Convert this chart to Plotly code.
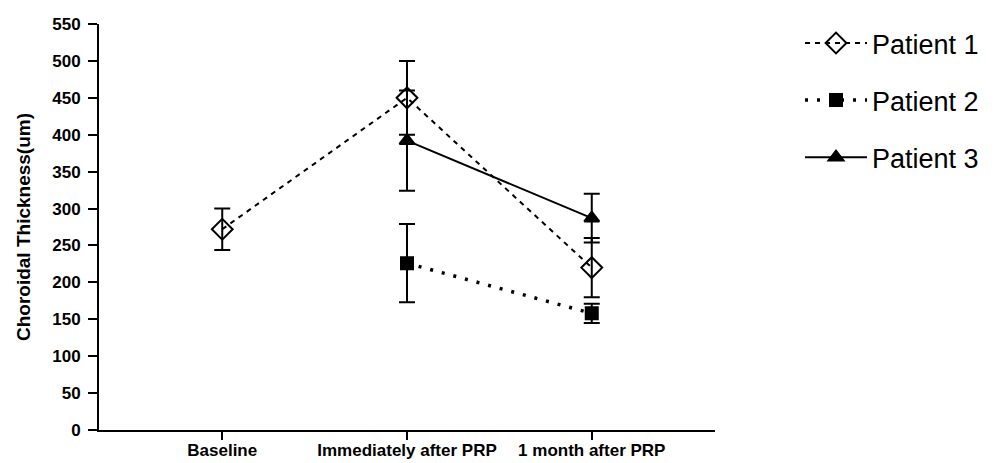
import plotly.graph_objects as go

categories = ["Baseline", "Immediately after PRP", "1 month after PRP"]
x_pos = [0, 1, 2]

p1_vals = [272, 450, 220]
p1_err = [28, 50, 40]
p2_vals = [None, 226, 158]
p2_err = [0, 53, 13]
p3_vals = [None, 392, 287]
p3_err = [0, 68, 33]

y_ticks = list(range(0, 551, 50))

fig = go.Figure()

def add(name, vals, err, symbol, size, dash, width, group):
    fig.add_trace(go.Scatter(
        x=x_pos, y=vals, name=name, mode="lines+markers",
        legendgroup=group,
        line=dict(color="black", width=width, dash=dash),
        marker=dict(symbol=symbol, size=size, color="black",
                    line=dict(color="black", width=2)),
        error_y=dict(type="data", array=err, visible=True, color="black",
                     thickness=2, width=8),
        connectgaps=False,
    ))

add("Patient 1", p1_vals, p1_err, "diamond-open", 16, "5px,5px", 2, "a")
add("Patient 2", p2_vals, p2_err, "square", 12, "3px,9px", 3.5, "b")
add("Patient 3", p3_vals, p3_err, "triangle-up", 13, "solid", 2, "c")

FONT = "Liberation Sans, Arial, sans-serif"

fig.update_layout(
    width=989, height=455,
    margin=dict(l=91, r=282, t=15, b=33),
    paper_bgcolor="white", plot_bgcolor="white",
    font=dict(family=FONT, color="black"),
    legend=dict(x=1.138, y=1.01, xanchor="left", yanchor="top",
                font=dict(size=27, color="black"),
                tracegroupgap=19, itemwidth=62,
                bgcolor="rgba(0,0,0,0)"),
    xaxis=dict(
        range=[-0.667, 2.667], tickmode="array", tickvals=x_pos,
        ticktext=categories, showline=True, linecolor="black", linewidth=2,
        ticks="outside", ticklen=8, tickwidth=2, tickcolor="black",
        showgrid=False, zeroline=False, automargin=False, ticklabelstandoff=-4,
        tickfont=dict(size=17, color="black", family=FONT, weight="bold"),
    ),
    yaxis=dict(
        range=[0, 550], tickmode="array", tickvals=y_ticks,
        showline=True, linecolor="black", linewidth=2,
        ticks="outside", ticklen=9, tickwidth=2, tickcolor="black",
        showgrid=False, zeroline=False, ticklabelstandoff=4, automargin=False,
        tickfont=dict(size=17, color="black", family=FONT, weight="bold"),
        title=dict(text="Choroidal Thickness(um)", standoff=17,
                   font=dict(size=19, color="black", weight="bold")),
    ),
)

fig.write_html("out.html")
